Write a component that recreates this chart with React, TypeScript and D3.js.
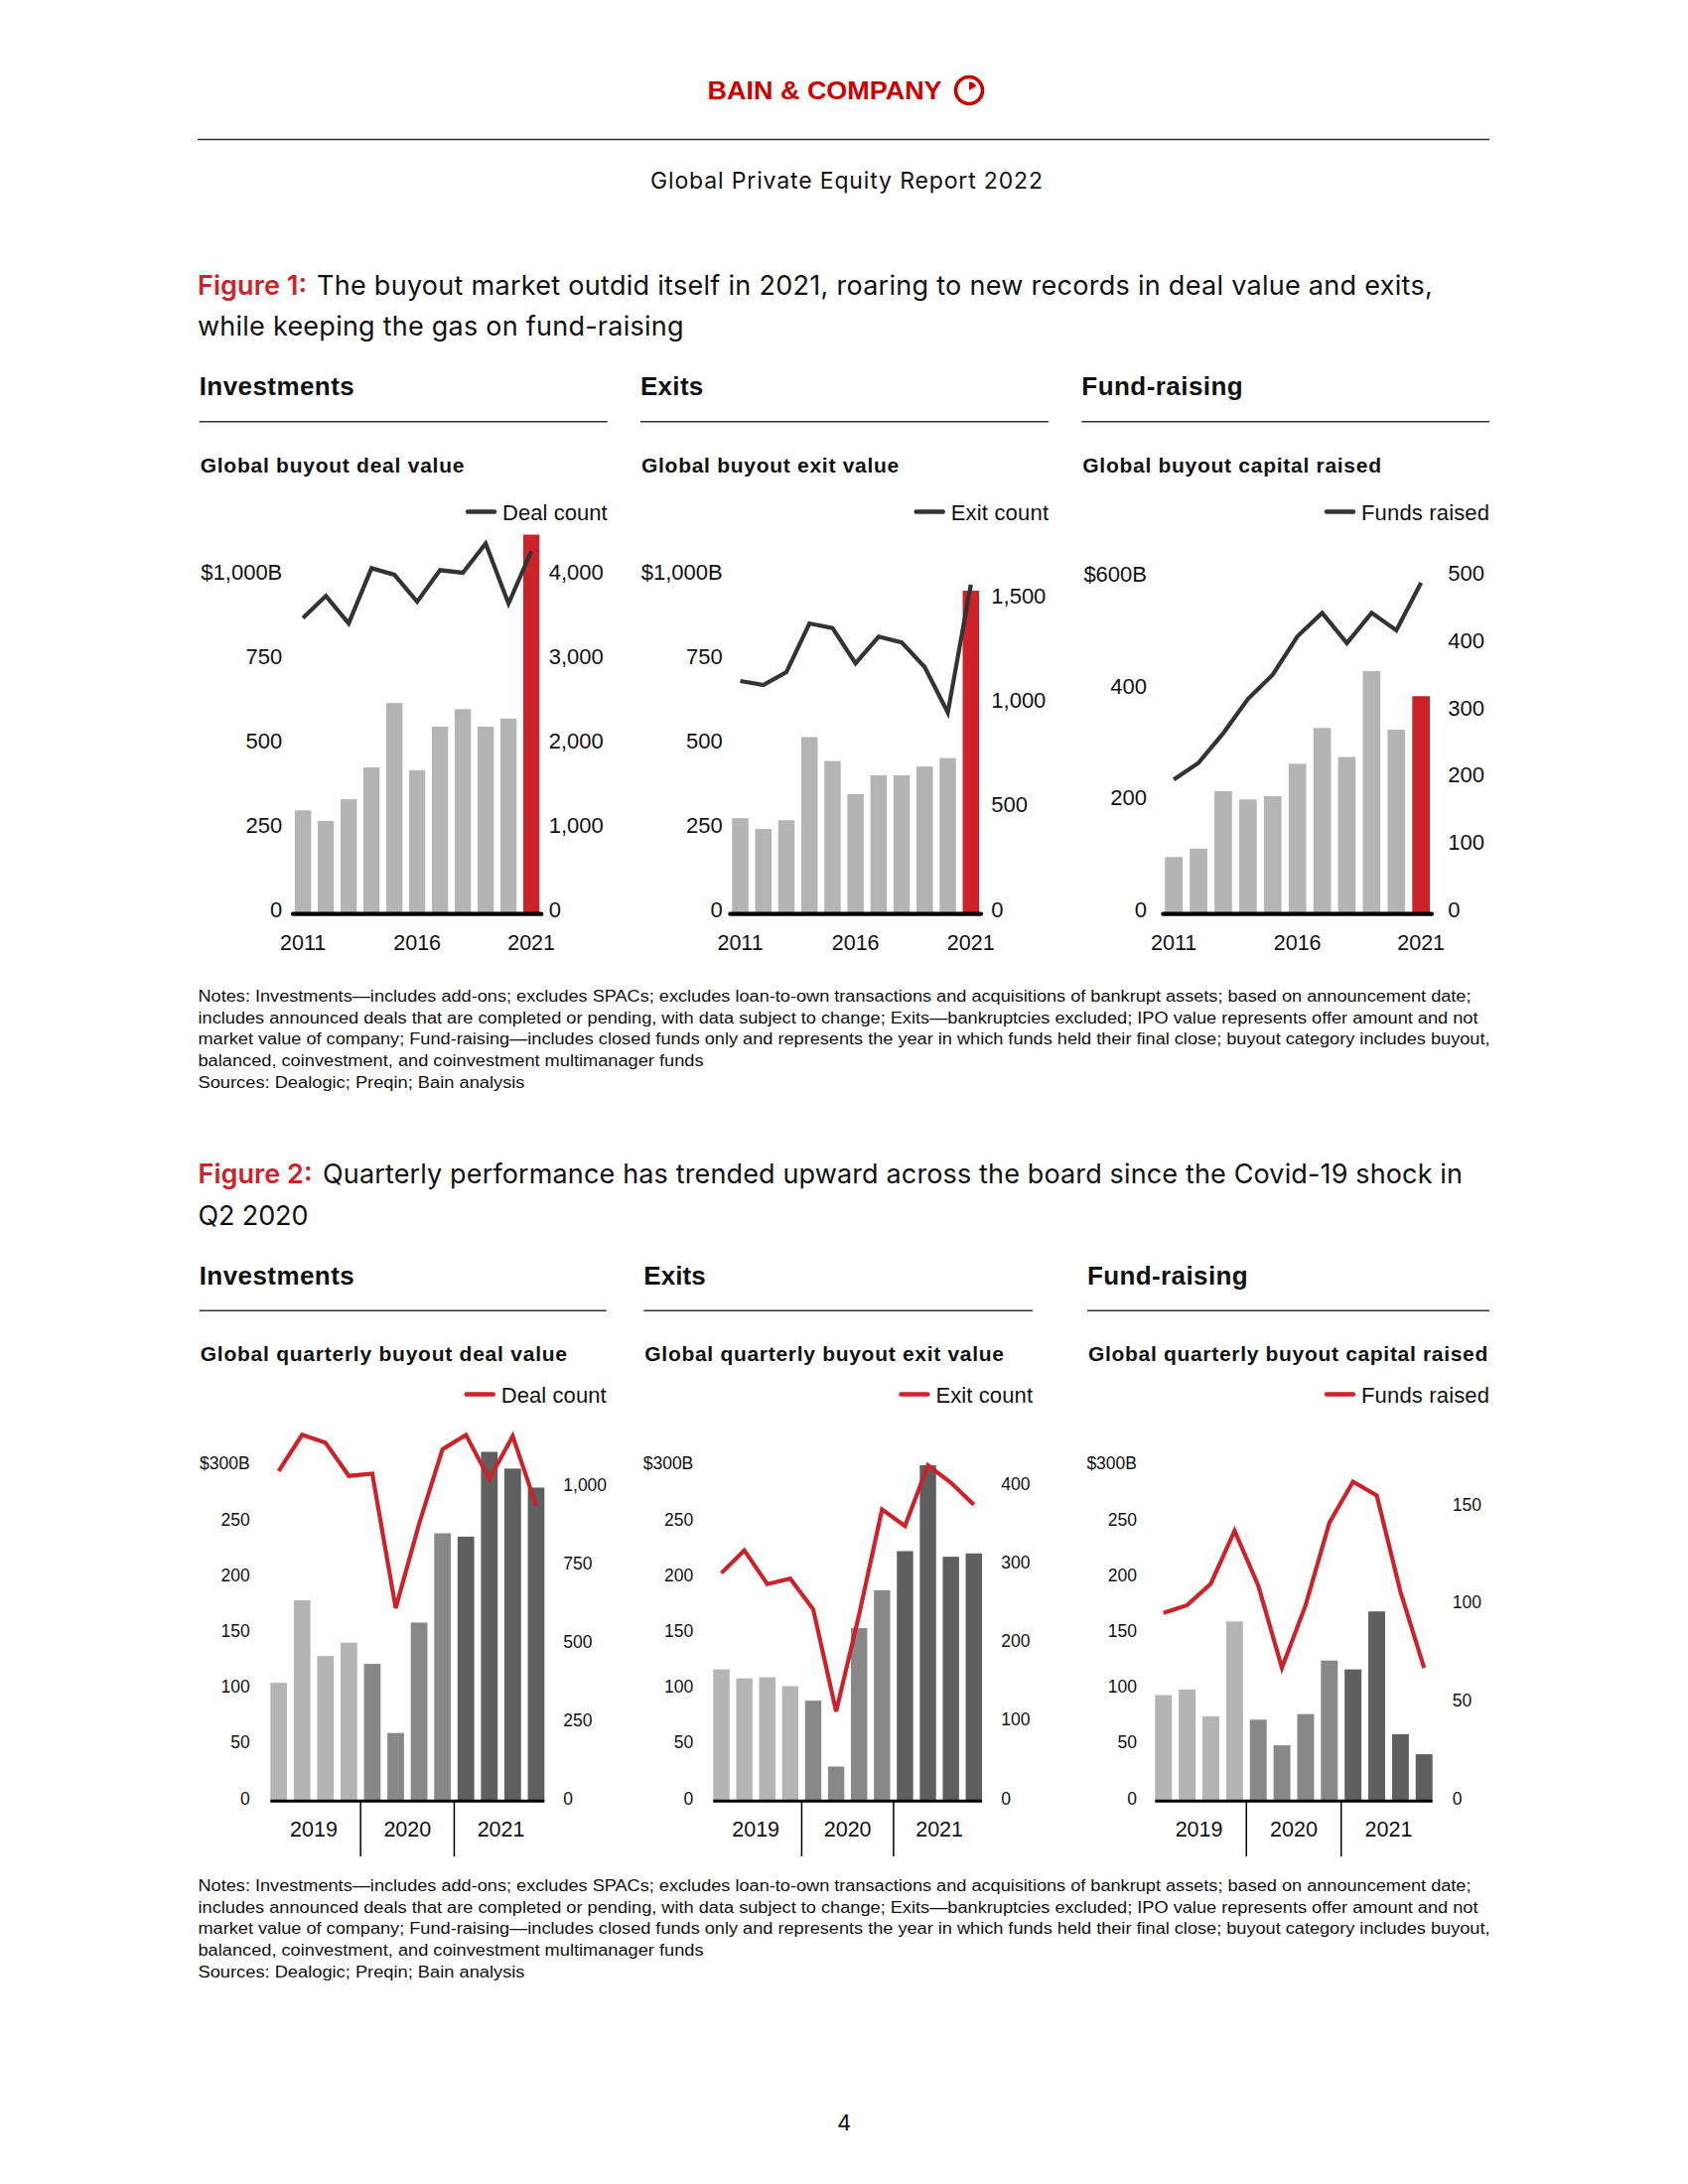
import * as d3 from 'd3'

// ---- annual data (Figure 1) ----
const years = ['2011', '2012', '2013', '2014', '2015', '2016', '2017', '2018', '2019', '2020', '2021']
const yearLabels = ['2011', '2016', '2021']
const dealValue = [307, 276, 340, 434, 625, 426, 555, 607, 555, 579, 1124]
const dealCount = [3508, 3769, 3445, 4098, 4021, 3701, 4075, 4044, 4391, 3679, 4300]
const exitValue = [284, 252, 278, 524, 453, 355, 411, 411, 437, 462, 958]
const exitCount = [1116, 1097, 1159, 1392, 1370, 1201, 1329, 1301, 1183, 965, 1578]
const capitalRaised = [102, 117, 220, 205, 211, 269, 333, 281, 435, 330, 390]
const fundsRaised = [200, 225, 269, 320, 356, 413, 448, 403, 448, 422, 493]

// ---- quarterly data (Figure 2) ----
const quarters = ['Q1 2019', 'Q2 2019', 'Q3 2019', 'Q4 2019', 'Q1 2020', 'Q2 2020', 'Q3 2020', 'Q4 2020', 'Q1 2021', 'Q2 2021', 'Q3 2021', 'Q4 2021']
const quarterYears = ['2019', '2020', '2021']
const qDealValue = [106, 180, 130, 142, 123, 61, 160, 240, 237, 313, 298, 281]
const qDealCount = [1053, 1169, 1144, 1038, 1045, 616, 885, 1123, 1169, 1028, 1165, 944]
const qExitValue = [118, 110, 111, 103, 90, 31, 155, 189, 224, 301, 219, 222]
const qExitCount = [290, 319, 276, 283, 244, 114, 237, 371, 350, 427, 405, 377]
const qCapital = [95, 100, 76, 161, 73, 50, 78, 126, 118, 170, 60, 42]
const qFunds = [96, 100, 111, 138, 110, 68, 100, 142, 163, 156, 107, 68]

const notes = [
  'Notes: Investments\u2014includes add-ons; excludes SPACs; excludes loan-to-own transactions and acquisitions of bankrupt assets; based on announcement date;',
  'includes announced deals that are completed or pending, with data subject to change; Exits\u2014bankruptcies excluded; IPO value represents offer amount and not',
  'market value of company; Fund-raising\u2014includes closed funds only and represents the year in which funds held their final close; buyout category includes buyout,',
  'balanced, coinvestment, and coinvestment multimanager funds',
  'Sources: Dealogic; Preqin; Bain analysis',
]
const noteWidths = [1282, 1289, 1301, 509, 329]

const RED = '#cc2229'
const DARK = '#333333'
const SANS = '"Liberation Sans", Arial, Helvetica, sans-serif'
const TITLE = 'Inter, "Open Sans", "Liberation Sans", sans-serif'
const NARROW = '"Liberation Sans Narrow", "Arial Narrow", "Liberation Sans", sans-serif'
const fmt = d3.format(',')

const BASE1 = 920.7
const BASE2 = 1814.3
const quarterShades: Record<string, string> = { '2019': '#b4b4b4', '2020': '#888888', '2021': '#5f5f5f' }

interface Layout {
  heading: string
  headingW: number
  left: number
  right: number
  sub: string
  subW: number
  legend: string
  legendW: number
  legendX: number
  barL: number
  barR: number
  tickLeftX: number
  tickRightX: number
  vMax: number
  vTop: number
  vTicks: number[]
  vTopLabel: string
  cMax: number
  cTop: number
  cTicks: number[]
}

function Header({ l, top }: { l: Layout; top: number }) {
  return (
    <g>
      <text x={l.left} y={top} fontFamily={SANS} fontWeight={700} fontSize={26} textLength={l.headingW} fill="#111">
        {l.heading}
      </text>
      <line x1={l.left} x2={l.right} y1={top + 26.5} y2={top + 26.5} stroke={DARK} strokeWidth={1.4} />
      <text x={l.left + 1} y={top + 77.3} fontFamily={SANS} fontWeight={700} fontSize={21} textLength={l.subW} fill="#111">
        {l.sub}
      </text>
    </g>
  )
}

function Legend({ l, y, color }: { l: Layout; y: number; color: string }) {
  const tx = l.right - l.legendW
  return (
    <g>
      <line x1={tx - 35} x2={tx - 8} y1={y} y2={y} stroke={color} strokeWidth={4.5} strokeLinecap="round" />
      <text x={tx} y={y + 8} fontFamily={SANS} fontSize={22} textLength={l.legendW} fill="#111">
        {l.legend}
      </text>
    </g>
  )
}

function AnnualPanel({ l, values, counts }: { l: Layout; values: number[]; counts: number[] }) {
  const x = d3.scaleBand<string>().domain(years).range([l.barL, l.barR]).paddingInner(0.29)
  const y = d3.scaleLinear().domain([0, l.vMax]).range([BASE1, l.vTop])
  const y2 = d3.scaleLinear().domain([0, l.cMax]).range([BASE1, l.cTop])
  const cx = (i: number) => (x(years[i]) ?? 0) + x.bandwidth() / 2
  const line = d3.line<number>().x((_, i) => cx(i)).y(d => y2(d))
  return (
    <g>
      <Header l={l} top={398.3} />
      <Legend l={l} y={515.5} color={DARK} />
      {values.map((v, i) => (
        <rect key={years[i]} x={x(years[i])} y={y(v)} width={x.bandwidth()} height={BASE1 - y(v)}
          fill={i === years.length - 1 ? RED : '#b4b4b4'} />
      ))}
      <path d={line(counts) ?? ''} fill="none" stroke={DARK} strokeWidth={4.2} strokeLinejoin="miter" />
      <line x1={l.barL - 2} x2={l.barR + 2} y1={BASE1} y2={BASE1} stroke="#000" strokeWidth={4.2} strokeLinecap="round" />
      {l.vTicks.map(t => (
        <text key={t} x={l.tickLeftX} y={y(t) - 5} dy="0.36em" textAnchor="end" fontFamily={SANS} fontSize={22} fill="#111">
          {t === l.vMax ? l.vTopLabel : fmt(t)}
        </text>
      ))}
      {l.cTicks.map(t => (
        <text key={t} x={l.tickRightX} y={y2(t) - 5} dy="0.36em" fontFamily={SANS} fontSize={22} fill="#111">
          {fmt(t)}
        </text>
      ))}
      {yearLabels.map(yr => (
        <text key={yr} x={cx(years.indexOf(yr))} y={957} textAnchor="middle" fontFamily={SANS} fontSize={21.5} fill="#111">
          {yr}
        </text>
      ))}
    </g>
  )
}

function QuarterPanel({ l, values, counts }: { l: Layout; values: number[]; counts: number[] }) {
  const x = d3.scaleBand<string>().domain(quarters).range([l.barL, l.barR]).paddingInner(0.29)
  const y = d3.scaleLinear().domain([0, l.vMax]).range([BASE2, l.vTop])
  const y2 = d3.scaleLinear().domain([0, l.cMax]).range([BASE2, l.cTop])
  const cx = (i: number) => (x(quarters[i]) ?? 0) + x.bandwidth() / 2
  const line = d3.line<number>().x((_, i) => cx(i)).y(d => y2(d))
  const gap = x.step() - x.bandwidth()
  return (
    <g>
      <Header l={l} top={1293.8} />
      <Legend l={l} y={1404.5} color={RED} />
      {values.map((v, i) => (
        <rect key={quarters[i]} x={x(quarters[i])} y={y(v)} width={x.bandwidth()} height={BASE2 - y(v)}
          fill={quarterShades[quarters[i].slice(3)]} />
      ))}
      <path d={line(counts) ?? ''} fill="none" stroke={RED} strokeWidth={4.2} strokeLinejoin="miter" />
      <line x1={l.barL} x2={l.barR} y1={BASE2} y2={BASE2} stroke="#000" strokeWidth={3} />
      {quarterYears.map((yr, k) => {
        const first = x(quarters[k * 4]) ?? 0
        const last = (x(quarters[k * 4 + 3]) ?? 0) + x.bandwidth()
        return (
          <g key={yr}>
            <text x={(first + last) / 2} y={1850} textAnchor="middle" fontFamily={SANS} fontSize={21.5} fill="#111">
              {yr}
            </text>
            {k > 0 && (
              <line x1={first - gap / 2} x2={first - gap / 2} y1={BASE2} y2={1870} stroke="#000" strokeWidth={1.5} />
            )}
          </g>
        )
      })}
      {l.vTicks.map(t => (
        <text key={t} x={l.tickLeftX} y={y(t) - 3} dy="0.36em" textAnchor="end" fontFamily={SANS} fontSize={17.5} fill="#111">
          {t === l.vMax ? l.vTopLabel : fmt(t)}
        </text>
      ))}
      {l.cTicks.map(t => (
        <text key={t} x={l.tickRightX} y={y2(t) - 3} dy="0.36em" fontFamily={SANS} fontSize={17.5} fill="#111">
          {fmt(t)}
        </text>
      ))}
    </g>
  )
}

const annualLayouts: Layout[] = [
  { heading: 'Investments', headingW: 156, left: 200.7, right: 611.7, sub: 'Global buyout deal value', subW: 265.7,
    legend: 'Deal count', legendW: 105.7, legendX: 468, barL: 297, barR: 543.3, tickLeftX: 284.3, tickRightX: 552.7,
    vMax: 1000, vTop: 580.7, vTicks: [0, 250, 500, 750, 1000], vTopLabel: '$1,000B',
    cMax: 4000, cTop: 580.7, cTicks: [0, 1000, 2000, 3000, 4000] },
  { heading: 'Exits', headingW: 63.3, left: 645, right: 1056, sub: 'Global buyout exit value', subW: 259.3,
    legend: 'Exit count', legendW: 98.3, legendX: 920, barL: 737.3, barR: 986, tickLeftX: 727.7, tickRightX: 998.3,
    vMax: 1000, vTop: 580.7, vTicks: [0, 250, 500, 750, 1000], vTopLabel: '$1,000B',
    cMax: 1500, cTop: 605.3, cTicks: [0, 500, 1000, 1500] },
  { heading: 'Fund-raising', headingW: 162.4, left: 1089.3, right: 1500, sub: 'Global buyout capital raised', subW: 300.7,
    legend: 'Funds raised', legendW: 129, legendX: 1330, barL: 1173.3, barR: 1440, tickLeftX: 1155, tickRightX: 1458.3,
    vMax: 600, vTop: 583.1, vTicks: [0, 200, 400, 600], vTopLabel: '$600B',
    cMax: 500, cTop: 582.2, cTicks: [0, 100, 200, 300, 400, 500] },
]

const quarterLayouts: Layout[] = [
  { heading: 'Investments', headingW: 156, left: 200.7, right: 610.7, sub: 'Global quarterly buyout deal value', subW: 369.3,
    legend: 'Deal count', legendW: 106, legendX: 468, barL: 272.3, barR: 548.3, tickLeftX: 251.7, tickRightX: 567.3,
    vMax: 300, vTop: 1477.1, vTicks: [0, 50, 100, 150, 200, 250, 300], vTopLabel: '$300B',
    cMax: 1000, cTop: 1498.7, cTicks: [0, 250, 500, 750, 1000] },
  { heading: 'Exits', headingW: 62.4, left: 648.3, right: 1040, sub: 'Global quarterly buyout exit value', subW: 361.7,
    legend: 'Exit count', legendW: 97.6, legendX: 903, barL: 718.3, barR: 989, tickLeftX: 698.3, tickRightX: 1008.3,
    vMax: 300, vTop: 1477.1, vTicks: [0, 50, 100, 150, 200, 250, 300], vTopLabel: '$300B',
    cMax: 400, cTop: 1497.5, cTicks: [0, 100, 200, 300, 400] },
  { heading: 'Fund-raising', headingW: 161.7, left: 1095, right: 1500, sub: 'Global quarterly buyout capital raised', subW: 402.3,
    legend: 'Funds raised', legendW: 129, legendX: 1327, barL: 1163.3, barR: 1442.7, tickLeftX: 1145, tickRightX: 1462.7,
    vMax: 300, vTop: 1477.1, vTicks: [0, 50, 100, 150, 200, 250, 300], vTopLabel: '$300B',
    cMax: 150, cTop: 1518.2, cTicks: [0, 50, 100, 150] },
]

function Notes({ top }: { top: number }) {
  return (
    <g>
      {notes.map((n, i) => (
        <text key={i} x={199.5} y={top + i * 21.7} fontFamily={NARROW} fontSize={16} fill="#111"
          textLength={noteWidths[i]} lengthAdjust="spacingAndGlyphs">
          {n}
        </text>
      ))}
    </g>
  )
}

export default function App() {
  const lc = 976
  const lcy = 91
  return (
    <svg width={1700} height={2200} viewBox="0 0 1700 2200"
      style={{ position: 'absolute', left: 0, top: 0, background: '#fff' }}>
      <rect width={1700} height={2200} fill="#fff" />
      {/* masthead */}
      <text x={712.6} y={100} fontFamily={SANS} fontWeight={700} fontSize={25} fill="#cc0000"
        textLength={236} lengthAdjust="spacingAndGlyphs">BAIN &amp; COMPANY</text>
      <circle cx={lc} cy={lcy} r={13.5} fill="none" stroke="#cc0000" strokeWidth={3.6} />
      <path d={`M${lc},${lcy} L${lc},${lcy - 8.5} A8.5,8.5 0 0 1 ${lc + 7.4},${lcy - 4.2} Z`} fill="#cc0000" />
      <line x1={199} x2={1500} y1={140.5} y2={140.5} stroke={DARK} strokeWidth={1.4} />
      <text x={655} y={190} fontFamily={TITLE} fontSize={23} fill="#111" textLength={395}>
        Global Private Equity Report 2022
      </text>

      {/* Figure 1 */}
      <text x={199} y={296.7} fontFamily={TITLE} fontWeight={600} fontSize={27} fill={RED} textLength={110}>Figure 1:</text>
      <text x={319} y={296.7} fontFamily={TITLE} fontSize={27} fill="#111" textLength={1123.7}>
        The buyout market outdid itself in 2021, roaring to new records in deal value and exits,
      </text>
      <text x={199} y={338.3} fontFamily={TITLE} fontSize={27} fill="#111" textLength={489.5}>
        while keeping the gas on fund-raising
      </text>
      <AnnualPanel l={annualLayouts[0]} values={dealValue} counts={dealCount} />
      <AnnualPanel l={annualLayouts[1]} values={exitValue} counts={exitCount} />
      <AnnualPanel l={annualLayouts[2]} values={capitalRaised} counts={fundsRaised} />
      <Notes top={1009} />

      {/* Figure 2 */}
      <text x={199.5} y={1192} fontFamily={TITLE} fontWeight={600} fontSize={27} fill={RED} textLength={115}>Figure 2:</text>
      <text x={325} y={1192} fontFamily={TITLE} fontSize={27} fill="#111" textLength={1148}>
        Quarterly performance has trended upward across the board since the Covid-19 shock in
      </text>
      <text x={199.5} y={1234} fontFamily={TITLE} fontSize={27} fill="#111" textLength={111}>Q2 2020</text>
      <QuarterPanel l={quarterLayouts[0]} values={qDealValue} counts={qDealCount} />
      <QuarterPanel l={quarterLayouts[1]} values={qExitValue} counts={qExitCount} />
      <QuarterPanel l={quarterLayouts[2]} values={qCapital} counts={qFunds} />
      <Notes top={1905} />

      <text x={850} y={2146} textAnchor="middle" fontFamily={TITLE} fontSize={22} fill="#111">4</text>
    </svg>
  )
}
